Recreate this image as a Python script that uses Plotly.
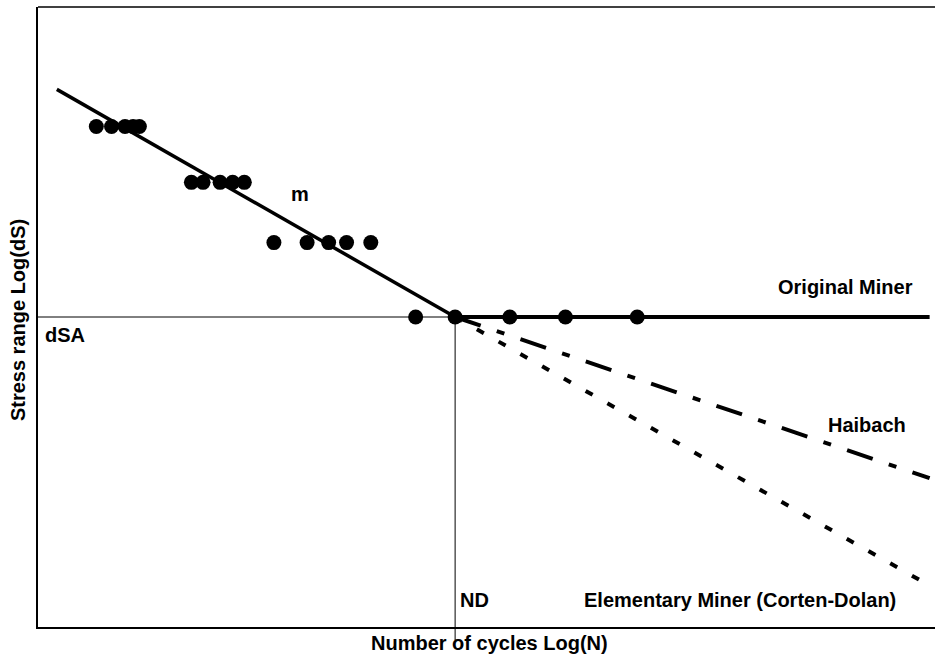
import plotly.graph_objects as go

# ---- data (arbitrary log units) ----
X_MIN, X_MAX = 0.0, 10.0
Y_MIN, Y_MAX = 0.0, 7.0

ND = 4.65          # knee point, Log(N)
DSA = 3.50         # fatigue limit, Log(dS)

sn_x = [0.21, ND]          # sloped S-N line (slope m)
sn_y = [6.07, DSA]

miner_x = [ND, 9.94]       # original Miner (horizontal)
miner_y = [DSA, DSA]

haibach_x = [ND, 9.94]
haibach_y = [DSA, 1.68]

corten_x = [ND, 9.83]
corten_y = [DSA, 0.53]

test_x = [0.65, 0.82, 0.97, 1.06, 1.13,
          1.71, 1.84, 2.03, 2.17, 2.30,
          2.63, 3.00, 3.24, 3.44, 3.71,
          4.21, 4.65, 5.26, 5.88, 6.68]
test_y = [5.65] * 5 + [5.02] * 5 + [4.34] * 5 + [3.50] * 5

FONT = "Liberation Sans, Arial, sans-serif"

fig = go.Figure()

# thin reference line at dSA up to ND
fig.add_trace(go.Scatter(x=[X_MIN, ND], y=[DSA, DSA], mode="lines",
                         line=dict(color="black", width=1), hoverinfo="skip"))
fig.add_trace(go.Scatter(x=corten_x, y=corten_y, mode="lines",
                         line=dict(color="black", width=4, dash="8px,17px")))
fig.add_trace(go.Scatter(x=haibach_x, y=haibach_y, mode="lines",
                         line=dict(color="black", width=4, dash="27px,17px,8px,17px")))
fig.add_trace(go.Scatter(x=sn_x, y=sn_y, mode="lines",
                         line=dict(color="black", width=3.5)))
fig.add_trace(go.Scatter(x=miner_x, y=miner_y, mode="lines",
                         line=dict(color="black", width=4)))
fig.add_trace(go.Scatter(x=test_x, y=test_y, mode="markers",
                         marker=dict(color="black", size=15, line=dict(width=0))))

# vertical ND line (extends slightly below the axis)
dsa_paper = (DSA - Y_MIN) / (Y_MAX - Y_MIN)
fig.add_shape(type="line", xref="x", yref="paper", x0=ND, x1=ND,
              y0=-0.021, y1=dsa_paper, line=dict(color="black", width=1))
# top frame line
fig.add_shape(type="line", xref="paper", yref="paper", x0=0, x1=1.01,
              y0=1, y1=1, line=dict(color="black", width=1.5))

lab = dict(font=dict(family=FONT, size=20, color="black"), showarrow=False,
           xanchor="center", yanchor="middle")
fig.add_annotation(x=2.92, y=4.89, text="<b>m</b>", **lab)
fig.add_annotation(x=0.30, y=3.30, text="<b>dSA</b>", **lab)
fig.add_annotation(x=9.00, y=3.84, text="<b>Original Miner</b>", **lab)
fig.add_annotation(x=9.24, y=2.28, text="<b>Haibach</b>", **lab)
fig.add_annotation(x=4.87, y=0.30, text="<b>ND</b>", **lab)
fig.add_annotation(x=7.83, y=0.30, text="<b>Elementary Miner (Corten-Dolan)</b>", **lab)

fig.add_annotation(xref="paper", yref="paper", x=0.503, y=-0.025,
                   text="<b>Number of cycles Log(N)</b>", **lab)
fig.add_annotation(xref="paper", yref="paper", x=-0.0223, y=0.495, textangle=-90,
                   text="<b>Stress range Log(dS)</b>", **lab)

fig.update_layout(
    width=935, height=657,
    margin=dict(l=38, r=0, t=7, b=30),
    plot_bgcolor="white", paper_bgcolor="white",
    showlegend=False,
    xaxis=dict(range=[X_MIN, X_MAX], showgrid=False, zeroline=False,
               showticklabels=False, ticks="", showline=True,
               linecolor="black", linewidth=1.5),
    yaxis=dict(range=[Y_MIN, Y_MAX], showgrid=False, zeroline=False,
               showticklabels=False, ticks="", showline=True,
               linecolor="black", linewidth=1.5),
)

fig.write_html("out.html", config={"displayModeBar": False})
